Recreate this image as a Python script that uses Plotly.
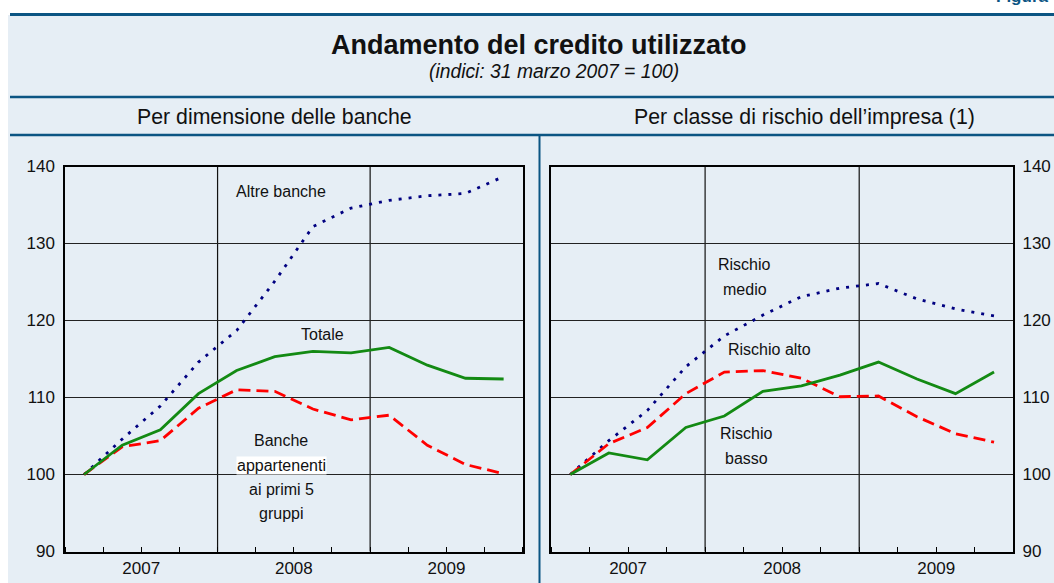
import plotly.graph_objects as go

# ---------------- data ----------------
quarters = ["2007-I", "2007-II", "2007-III", "2007-IV",
            "2008-I", "2008-II", "2008-III", "2008-IV",
            "2009-I", "2009-II", "2009-III", "2009-IV"]
years = [q[:4] for q in quarters]

# Left panel: per dimensione delle banche
altre_banche = [100, 104.6, 108.9, 114.6, 118.7, 125.1, 132.2, 134.6, 135.6, 136.2, 136.5, 138.7]
totale       = [100, 103.8, 105.8, 110.5, 113.5, 115.3, 116.0, 115.8, 116.5, 114.2, 112.5, 112.4]
primi5       = [100, 103.6, 104.4, 108.6, 111.0, 110.8, 108.5, 107.1, 107.7, 103.8, 101.3, 100.1]

# Right panel: per classe di rischio dell'impresa
rischio_medio = [100, 104.4, 108.3, 114.0, 118.0, 120.7, 123.1, 124.2, 124.8, 122.8, 121.5, 120.6]
rischio_alto  = [100, 104.0, 106.1, 110.5, 113.3, 113.5, 112.5, 110.1, 110.2, 107.5, 105.3, 104.2]
rischio_basso = [100, 102.8, 101.9, 106.1, 107.6, 110.8, 111.5, 112.9, 114.6, 112.4, 110.5, 113.3]

y_ticks = [90, 100, 110, 120, 130, 140]

# ---------------- derived positions ----------------
xi = list(range(len(quarters)))
year_list = []
for y in years:
    if y not in year_list:
        year_list.append(y)
year_centers = [sum(i for i, y in zip(xi, years) if y == yr) / years.count(yr) for yr in year_list]
year_bounds = [i - 0.5 for i in xi[1:] if years[i] != years[i - 1]]

FONT = "Liberation Sans, Arial, sans-serif"
NAVY = "#000080"
RED = "#FF0000"
GREEN = "#138A13"
DARK = "#0B5583"
BG = "#E6EEF5"

W, H = 1054, 583

def py(p):
    return 1 - p / H

def px(p):
    return p / W

fig = go.Figure()

def add_series(x, y, color, dash, xa, ya, name):
    fig.add_trace(go.Scatter(x=x, y=y, mode="lines", name=name, xaxis=xa, yaxis=ya,
                             line=dict(color=color, width=2.8, dash=dash),
                             hoverinfo="x+y", showlegend=False))

add_series(xi, altre_banche, NAVY, "3px,7px", "x", "y", "Altre banche")
add_series(xi, primi5, RED, "12px,6px", "x", "y", "Banche appartenenti ai primi 5 gruppi")
add_series(xi, totale, GREEN, "solid", "x", "y", "Totale")

add_series(xi, rischio_medio, NAVY, "3px,7px", "x2", "y2", "Rischio medio")
add_series(xi, rischio_alto, RED, "12px,6px", "x2", "y2", "Rischio alto")
add_series(xi, rischio_basso, GREEN, "solid", "x2", "y2", "Rischio basso")

xaxis_common = dict(
    range=[-0.5, len(quarters) - 0.5],
    tickmode="array", tickvals=year_centers, ticktext=year_list,
    ticks="", showgrid=False, zeroline=False, automargin=False,
    showline=True, mirror=True, linecolor="black", linewidth=1.5,
    tickfont=dict(family=FONT, size=17, color="#111"),
    minor=dict(tick0=-0.5, dtick=1, ticks="inside", ticklen=5,
               tickcolor="black", tickwidth=1, showgrid=False),
    fixedrange=True,
)
yaxis_common = dict(
    range=[90, 140], tickmode="array", tickvals=y_ticks,
    ticks="", showgrid=True, gridcolor="#222", gridwidth=1, zeroline=False, automargin=False,
    showline=True, mirror=True, linecolor="black", linewidth=1.5,
    tickfont=dict(family=FONT, size=17, color="#111"),
    fixedrange=True,
)

y_dom = [py(551.5), py(166.5)]
fig.update_layout(
    width=W, height=H, autosize=False,
    margin=dict(l=0, r=0, t=0, b=0, pad=0),
    paper_bgcolor="white", plot_bgcolor="white",
    xaxis=dict(domain=[px(65), px(522.7)], anchor="y", **xaxis_common),
    yaxis=dict(domain=y_dom, anchor="x", side="left", ticklabelstandoff=5, **yaxis_common),
    xaxis2=dict(domain=[px(551), px(1013.3)], anchor="y2", **xaxis_common),
    yaxis2=dict(domain=y_dom, anchor="x2", side="right", ticklabelstandoff=4, **yaxis_common),
    showlegend=False,
)

shapes = []
# panel background
shapes.append(dict(type="rect", xref="paper", yref="paper", x0=px(8), x1=1, y0=0, y1=py(15),
                   fillcolor=BG, line=dict(width=0), layer="below"))
# horizontal rules
for yy, w in [(14.5, 3), (97, 2.5), (135, 2.5)]:
    shapes.append(dict(type="line", xref="paper", yref="paper", x0=px(10), x1=1,
                       y0=py(yy), y1=py(yy), line=dict(color=DARK, width=w)))
# separator between panels
shapes.append(dict(type="line", xref="paper", yref="paper", x0=px(539.5), x1=px(539.5),
                   y0=0, y1=py(135), line=dict(color=DARK, width=2)))
# vertical year gridlines
for xa, ya in [("x", "y"), ("x2", "y2")]:
    for b in year_bounds:
        shapes.append(dict(type="line", xref=xa, yref=ya + " domain", x0=b, x1=b, y0=0, y1=1,
                           line=dict(color="#111", width=1.2), layer="below"))
fig.update_layout(shapes=shapes)

ann = []
def label(text, xa, ya, x, y, size=16, bg=None):
    d = dict(text=text, xref=xa, yref=ya, x=x, y=y, showarrow=False,
             font=dict(family=FONT, size=size, color="#111"), xanchor="center", yanchor="middle")
    if bg:
        d["bgcolor"] = bg
        d["borderpad"] = 0
    ann.append(d)

def pl(text, X, Y, size=16, bg=None):
    label(text, "x", "y", (X - 65) / 38.14 - 0.5, 140 - (Y - 166.5) / 7.7, size, bg)

def pr(text, X, Y, size=16, bg=None):
    label(text, "x2", "y2", (X - 551) / 38.53 - 0.5, 140 - (Y - 166.5) / 7.7, size, bg)

pl("Altre banche", 281, 191.5)
pl("Totale", 322, 335)
pl("Banche", 281, 441)
pl("appartenenti", 281, 465.5, bg="white")
pl("ai primi 5", 281, 490)
pl("gruppi", 281, 513)

pr("Rischio", 745, 265)
pr("medio", 745, 290)
pr("Rischio alto", 770, 349.5)
pr("Rischio", 747, 433.5)
pr("basso", 747, 458.5)

# titles
ann.append(dict(text="<b>Andamento del credito utilizzato</b>", xref="paper", yref="paper",
                x=px(539), y=py(45), showarrow=False, xanchor="center", yanchor="middle",
                font=dict(family=FONT, size=27, color="#111")))
ann.append(dict(text="<i>(indici: 31 marzo 2007 = 100)</i>", xref="paper", yref="paper",
                x=px(554), y=py(71.5), showarrow=False, xanchor="center", yanchor="middle",
                font=dict(family=FONT, size=19.3, color="#111")))
ann.append(dict(text="Per dimensione delle banche", xref="paper", yref="paper",
                x=px(274), y=py(117), showarrow=False, xanchor="center", yanchor="middle",
                font=dict(family=FONT, size=21.3, color="#111")))
ann.append(dict(text="Per classe di rischio dell\u2019impresa (1)", xref="paper", yref="paper",
                x=px(804), y=py(117), showarrow=False, xanchor="center", yanchor="middle",
                font=dict(family=FONT, size=21.3, color="#111")))
ann.append(dict(text="<b>Figura</b>", xref="paper", yref="paper",
                x=px(1050), y=py(8), showarrow=False, xanchor="right", yanchor="bottom",
                font=dict(family=FONT, size=17, color=DARK)))
fig.update_layout(annotations=ann)

fig.write_html("out.html", config={"displayModeBar": False},
               post_script="document.body.style.margin='0';document.body.style.overflow='hidden';")
